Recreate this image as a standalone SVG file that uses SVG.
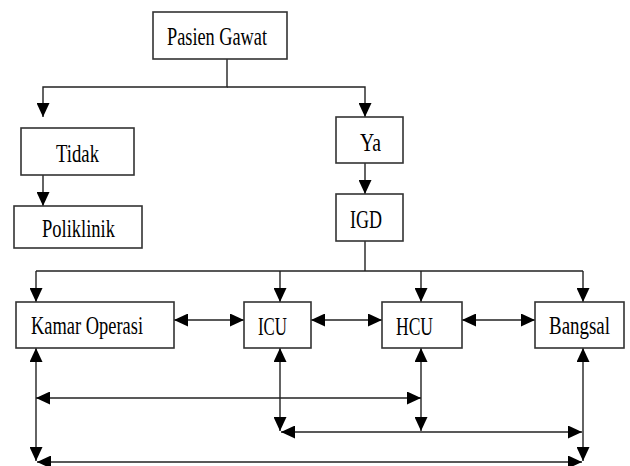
<svg xmlns="http://www.w3.org/2000/svg" width="630" height="466" viewBox="0 0 630 466">
<defs>
<marker id="ah" markerUnits="userSpaceOnUse" markerWidth="15" markerHeight="13" refX="14" refY="6.5" orient="auto-start-reverse" viewBox="0 0 15 13">
<path d="M0,0 L14,6.5 L0,13 z" fill="#000"/>
</marker>
<style>
.box{fill:#fff;stroke:#333;stroke-width:1.6}
.t{font-family:'Liberation Serif','Times New Roman',serif;font-size:25px;fill:#000}
.c{fill:none;stroke:#222;stroke-width:1.4}
.a{marker-end:url(#ah)}
.d{marker-start:url(#ah);marker-end:url(#ah)}
</style>
</defs>
<rect width="630" height="466" fill="#fff"/>
<g id="connectors">
<path class="c a" d="M227,59 V87 H43 V117"/>
<path class="c a" d="M227,87 H365 V117"/>
<path class="c a" d="M43,175 V206"/>
<path class="c a" d="M365,163 V194"/>
<path class="c" d="M365,241 V271 M36,271 H583"/>
<path class="c a" d="M36,271 V302"/>
<path class="c a" d="M280,271 V302"/>
<path class="c a" d="M421,271 V302"/>
<path class="c a" d="M583,271 V302"/>
<path class="c d" d="M174,320 H244"/>
<path class="c d" d="M311,320 H382"/>
<path class="c d" d="M462,320 H535"/>
<path class="c d" d="M36,348 V461"/>
<path class="c d" d="M280,348 V431"/>
<path class="c d" d="M421,348 V431"/>
<path class="c d" d="M583,348 V461"/>
<path class="c d" d="M36,398 H421"/>
<path class="c d" d="M281,432 H582"/>
<path class="c d" d="M37,462 H582"/>
</g>
<g id="pasien-gawat"><rect class="box" x="153" y="12" width="134" height="47"/><text class="t" font-family="Liberation Serif, serif" x="167" y="45" textLength="100" lengthAdjust="spacingAndGlyphs">Pasien Gawat</text></g>
<g id="tidak"><rect class="box" x="21" y="128" width="113" height="47"/><text class="t" font-family="Liberation Serif, serif" x="56" y="162" textLength="43" lengthAdjust="spacingAndGlyphs">Tidak</text></g>
<g id="poliklinik"><rect class="box" x="14" y="206" width="128" height="42"/><text class="t" font-family="Liberation Serif, serif" x="42" y="237" textLength="73" lengthAdjust="spacingAndGlyphs">Poliklinik</text></g>
<g id="ya"><rect class="box" x="336" y="117" width="67" height="46"/><text class="t" font-family="Liberation Serif, serif" x="360" y="151" textLength="21" lengthAdjust="spacingAndGlyphs">Ya</text></g>
<g id="igd"><rect class="box" x="336" y="194" width="67" height="47"/><text class="t" font-family="Liberation Serif, serif" x="350" y="228" textLength="32" lengthAdjust="spacingAndGlyphs">IGD</text></g>
<g id="kamar-operasi"><rect class="box" x="16" y="302" width="158" height="46"/><text class="t" font-family="Liberation Serif, serif" x="31" y="334" textLength="112" lengthAdjust="spacingAndGlyphs">Kamar Operasi</text></g>
<g id="icu"><rect class="box" x="244" y="302" width="67" height="46"/><text class="t" font-family="Liberation Serif, serif" x="258" y="335" textLength="29" lengthAdjust="spacingAndGlyphs">ICU</text></g>
<g id="hcu"><rect class="box" x="382" y="302" width="80" height="46"/><text class="t" font-family="Liberation Serif, serif" x="396" y="335" textLength="37" lengthAdjust="spacingAndGlyphs">HCU</text></g>
<g id="bangsal"><rect class="box" x="535" y="302" width="89" height="46"/><text class="t" font-family="Liberation Serif, serif" x="549" y="334" textLength="61" lengthAdjust="spacingAndGlyphs">Bangsal</text></g>
</svg>
